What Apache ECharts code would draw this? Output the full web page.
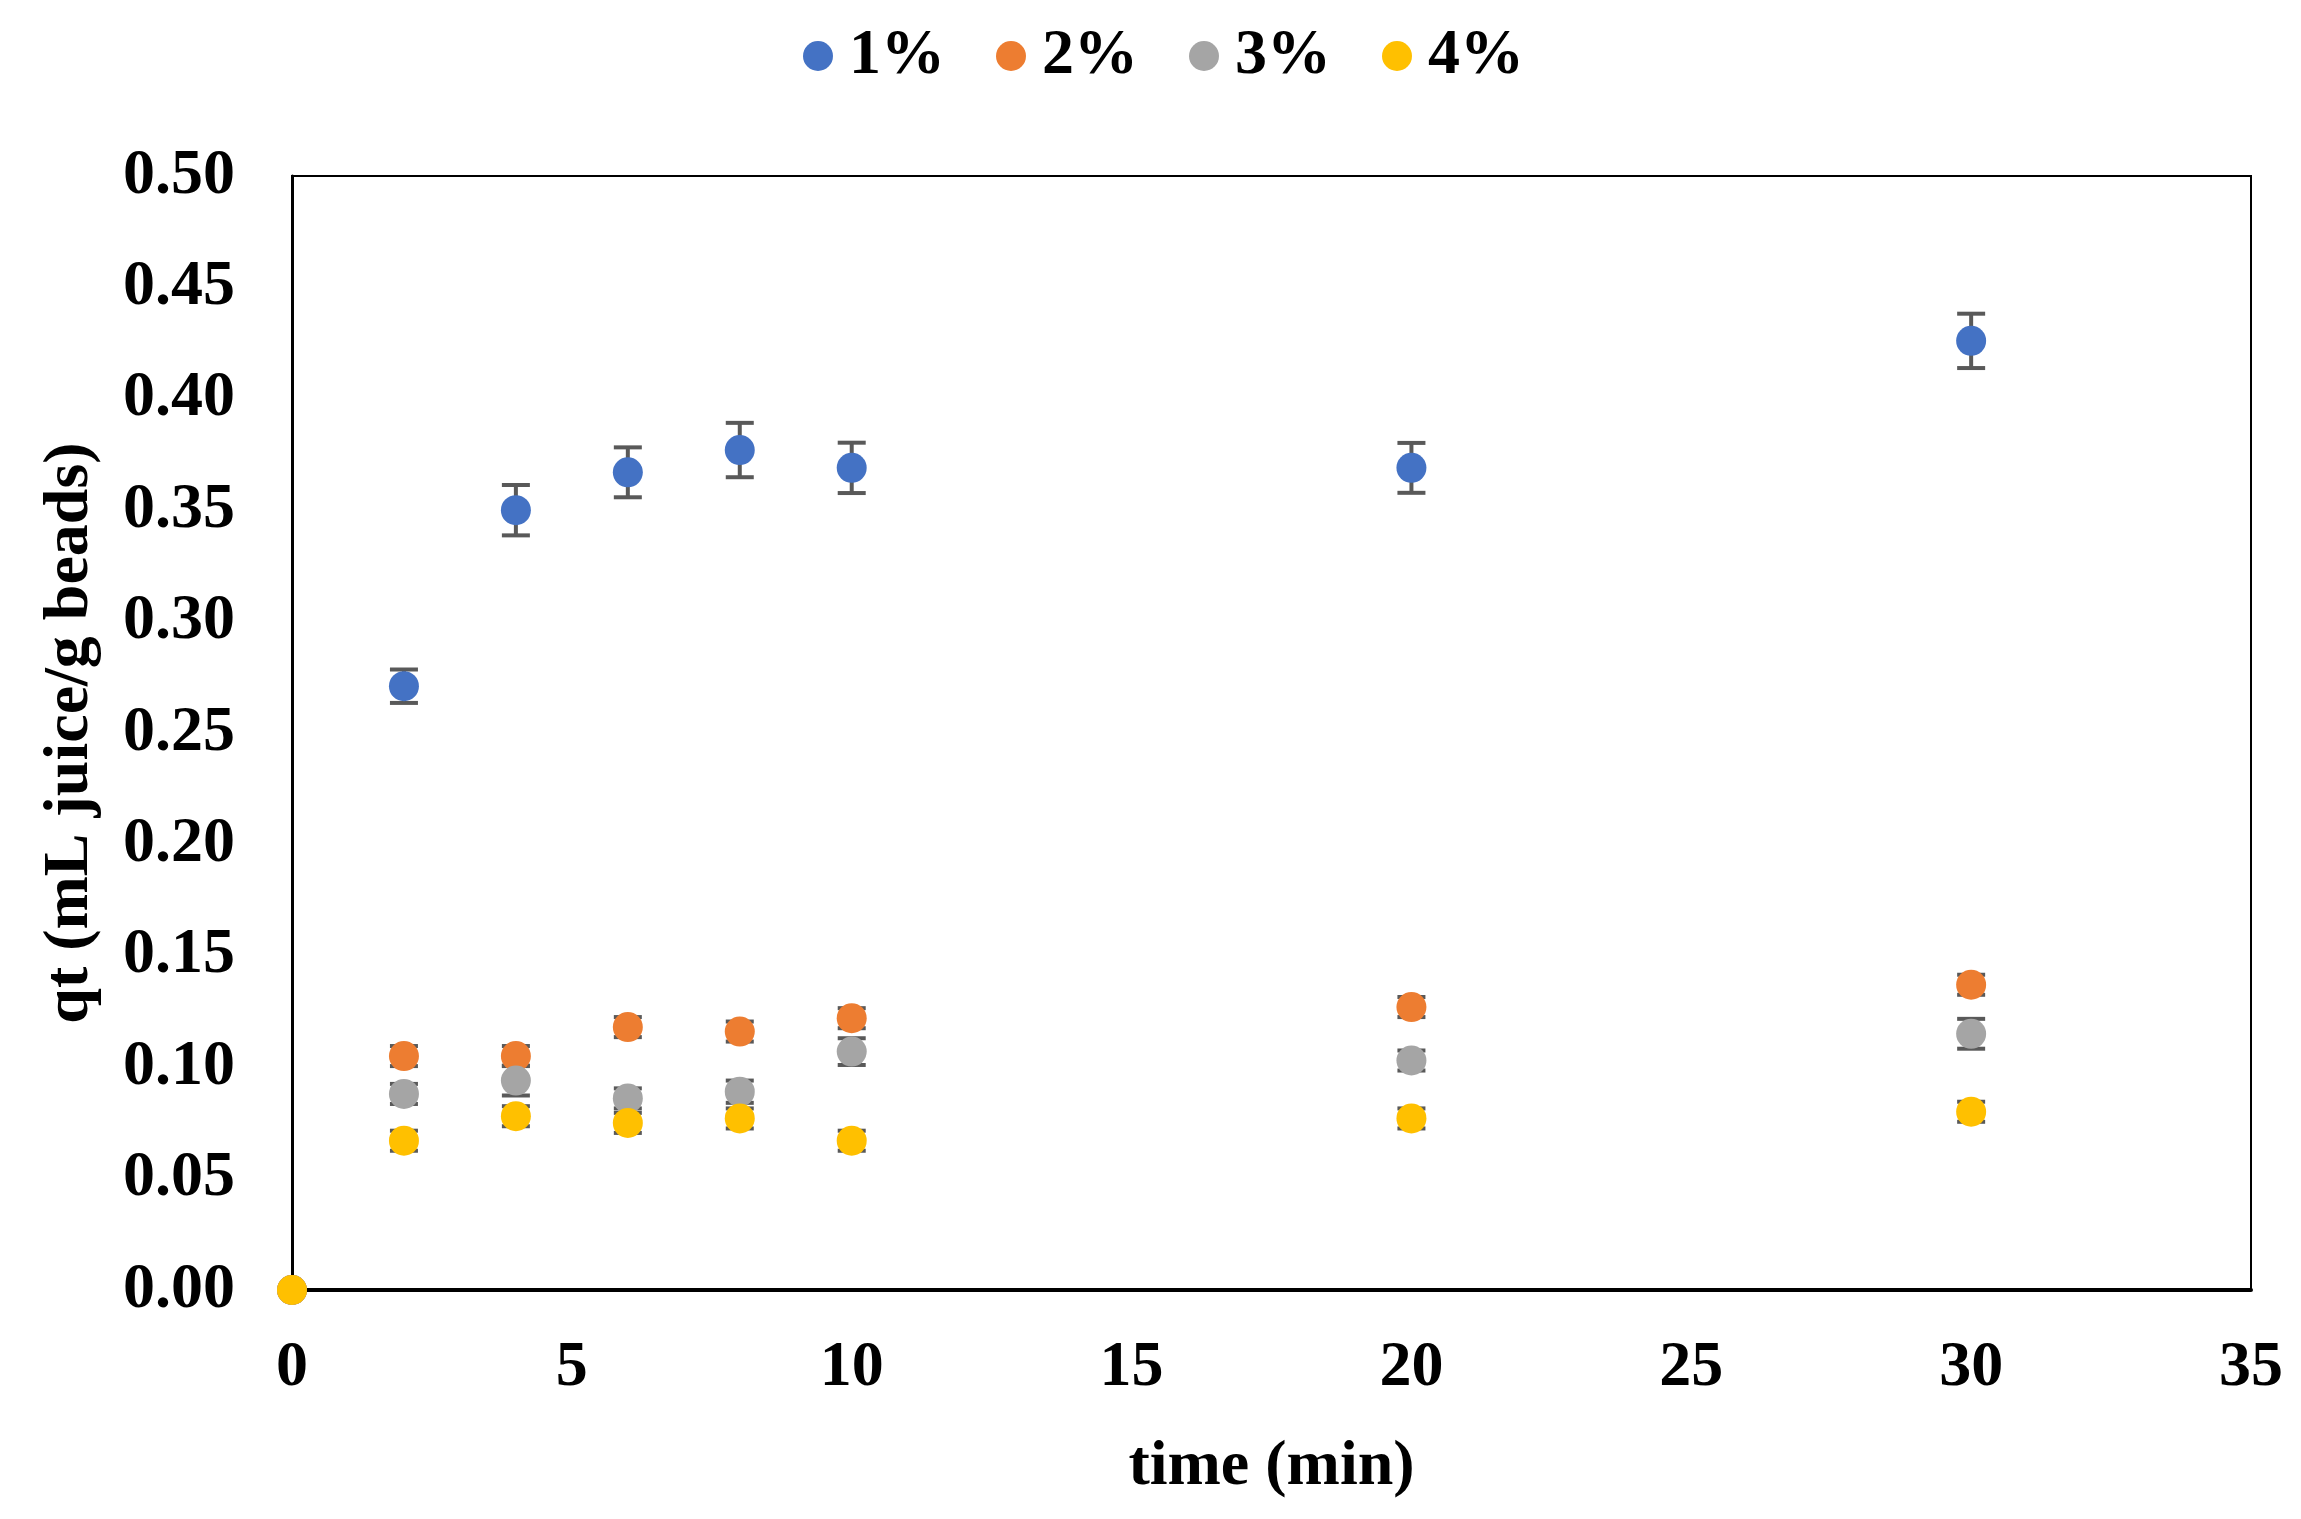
<!DOCTYPE html>
<html>
<head>
<meta charset="utf-8">
<script src="https://cdn.jsdelivr.net/npm/echarts@6/dist/echarts.min.js"></script>
<style>html,body{margin:0;padding:0;background:#fff;}#chart{width:2301px;height:1519px;}</style>
</head>
<body>
<div id="chart"></div>
<script>
var times = [0, 2, 4, 6, 8, 10, 20, 30];
var seriesNames = ['1%', '2%', '3%', '4%'];
var q1 = [0, 0.271, 0.350, 0.367, 0.377, 0.369, 0.369, 0.426];
var q2 = [0, 0.105, 0.105, 0.118, 0.116, 0.122, 0.127, 0.137];
var q3 = [0, 0.088, 0.094, 0.086, 0.089, 0.107, 0.103, 0.115];
var q4 = [0, 0.067, 0.078, 0.075, 0.077, 0.067, 0.077, 0.080];
var e1 = [0, 0.0075, 0.0113, 0.0112, 0.0122, 0.0113, 0.0112, 0.0122];
var e2 = [0, 0.0045, 0.0045, 0.0045, 0.0045, 0.0045, 0.0045, 0.0045];
var e3 = [0, 0.0045, 0.0067, 0.0045, 0.005, 0.006, 0.0045, 0.0067];
var e4 = [0, 0.0045, 0.0045, 0.0045, 0.0045, 0.0045, 0.0045, 0.0045];
var yTicks = [0, 0.05, 0.10, 0.15, 0.20, 0.25, 0.30, 0.35, 0.40, 0.45, 0.50];
var xTicks = [0, 5, 10, 15, 20, 25, 30, 35];

var colors = ['#4472C4', '#ED7D31', '#A5A5A5', '#FFC000'];
var values = [q1, q2, q3, q4];
var errors = [e1, e2, e3, e4];
var FONT = '"Liberation Serif", "Times New Roman", serif';

var chart = echarts.init(document.getElementById('chart'));
var series = [];
values.forEach(function (vals, si) {
  series.push({
    name: seriesNames[si],
    type: 'custom',
    z: 1,
    silent: true,
    renderItem: function (params, api) {
      var x = api.value(0), y = api.value(1), e = api.value(2);
      if (!e) return;
      var top = api.coord([x, y + e]);
      var bot = api.coord([x, y - e]);
      var hw = 14;
      var st = { stroke: '#595959', lineWidth: 4 };
      return {
        type: 'group',
        children: [
          { type: 'line', shape: { x1: top[0], y1: top[1], x2: bot[0], y2: bot[1] }, style: st },
          { type: 'line', shape: { x1: top[0] - hw, y1: top[1], x2: top[0] + hw, y2: top[1] }, style: st },
          { type: 'line', shape: { x1: bot[0] - hw, y1: bot[1], x2: bot[0] + hw, y2: bot[1] }, style: st }
        ]
      };
    },
    data: times.map(function (t, i) { return [t, vals[i], errors[si][i]]; })
  });
});
values.forEach(function (vals, si) {
  series.push({
    name: seriesNames[si],
    type: 'scatter',
    z: 2 + si,
    symbol: 'circle',
    symbolSize: 30,
    itemStyle: { color: colors[si], opacity: 1 },
    data: times.map(function (t, i) { return [t, vals[i]]; })
  });
});

chart.setOption({
  animation: false,
  backgroundColor: '#ffffff',
  color: colors,
  legend: {
    data: seriesNames.map(function (n, i) { return { name: n, icon: 'circle', itemStyle: { color: colors[i] } }; }),
    left: 803,
    top: 24,
    padding: 0,
    itemWidth: 52,
    itemHeight: 30,
    itemGap: 51,
    textStyle: { fontFamily: FONT, fontWeight: 'bold', fontSize: 64, color: '#000' }
  },
  grid: {
    left: 292, right: 50, top: 176, bottom: 229,
    show: true, borderColor: '#000', borderWidth: 2, backgroundColor: 'transparent'
  },
  xAxis: {
    type: 'value',
    min: xTicks[0], max: xTicks[xTicks.length - 1], interval: 5,
    name: 'time (min)',
    nameLocation: 'middle',
    nameGap: 145,
    nameTextStyle: { fontFamily: FONT, fontWeight: 'bold', fontSize: 64, color: '#000' },
    axisLine: { show: true, onZero: false, lineStyle: { color: '#000', width: 4 } },
    axisTick: { show: false },
    splitLine: { show: false },
    axisLabel: { margin: 46, fontFamily: FONT, fontWeight: 'bold', fontSize: 64, color: '#000' }
  },
  yAxis: {
    type: 'value',
    min: yTicks[0], max: yTicks[yTicks.length - 1], interval: 0.05,
    name: 'qt (mL juice/g beads)',
    nameLocation: 'middle',
    nameGap: 190,
    nameTextStyle: { fontFamily: FONT, fontWeight: 'bold', fontSize: 64, color: '#000' },
    axisLine: { show: true, lineStyle: { color: '#000', width: 3 } },
    axisTick: { show: false },
    splitLine: { show: false },
    axisLabel: {
      margin: 57, fontFamily: FONT, fontWeight: 'bold', fontSize: 64, color: '#000',
      formatter: function (v) { return v.toFixed(2); }
    }
  },
  series: series
});
</script>
</body>
</html>
